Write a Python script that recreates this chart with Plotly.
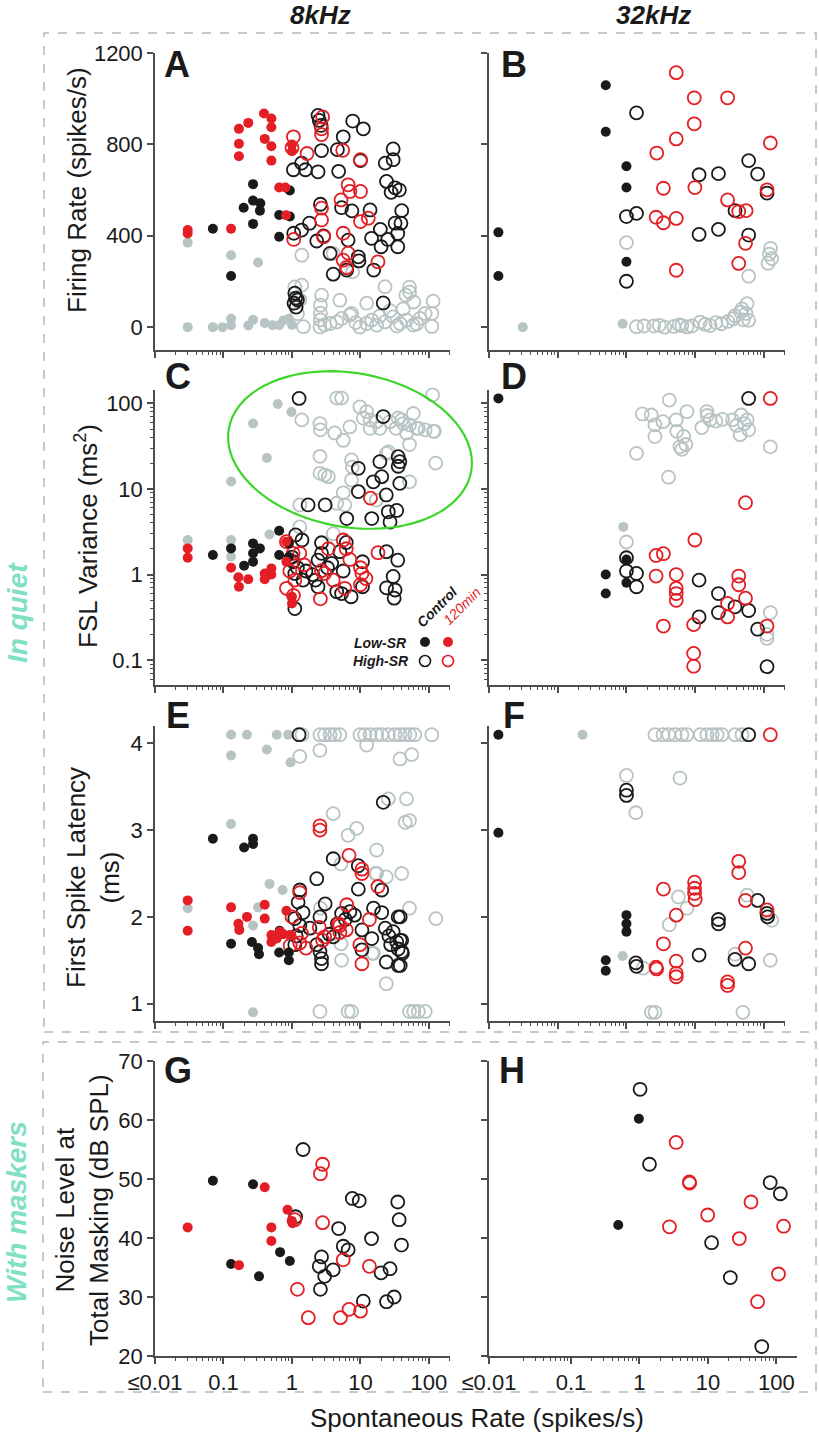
import math
import plotly.graph_objects as go

# x = spontaneous rate (spikes/s), y = response measure
# ctl = Control, t120 = 120min, excl = grey units; low = Low-SR (filled), high = High-SR (open)

# ---- A: firing rate, 8 kHz
a_excl_low_sr = [0.03, 0.129, 0.32, 0.03, 0.07, 0.097, 0.129, 0.129, 0.23, 0.27, 0.4, 0.52, 0.65, 0.75, 0.9, 1.0]
a_excl_low_fr = [370, 315, 283, 0, 0, 0, 8, 37, 7, 32, 18, 8, 8, 29, 37, 10]
a_excl_high_sr = [1.39, 1.39, 1.47, 2.71, 2.6, 2.6, 5.0, 12.3, 22.8, 52, 52, 46, 60, 115, 110,
                  2.56, 3.6, 4.5, 5.3, 7.0, 7.4, 9.8, 12.3, 14.6, 17.2, 22.8, 30, 37.8, 47, 59, 74, 110,
                  4.0, 7.7, 6.2, 1.1, 1.2, 2.6, 3.0, 8.5, 19, 27, 34, 42, 66, 88, 1.3]
a_excl_high_fr = [315, 184, 2, 140, 96, 61, 118, 105, 177, 175, 153, 140, 110, 114, 3,
                  1, 16, 23, 38, 53, 60, 1, 16, 31, 9, 23, 45, 16, 31, 9, 38, 60,
                  322, 242, 264, 176, 59, 32, 10, 20, 48, 72, 5, 80, 15, 60, 120]
a_ctl_low_sr = [0.07, 0.129, 0.197, 0.27, 0.27, 0.27, 0.345, 0.34, 0.65, 0.65, 0.93, 0.93]
a_ctl_low_fr = [431, 224, 523, 626, 554, 452, 542, 510, 491, 396, 598, 484]
a_ctl_high_sr = [2.4, 2.65, 2.5, 7.7, 11, 5.6, 2.7, 4.6, 10, 30, 23, 30, 1.05, 1.38, 1.57, 2.4, 4.8, 24, 28, 32,
                 37, 2.6, 5.3, 7.5, 13.8, 40, 6.6, 1.06, 1.38, 1.8, 2.3, 2.9, 3.6, 9.3, 9.5, 4.0, 6.3, 15.6, 19.5, 14.5,
                 20, 25, 35, 35, 39, 32, 1.1, 1.13, 1.07, 1.15, 1.2, 21.5]
a_ctl_high_fr = [927, 883, 905, 902, 868, 833, 773, 777, 729, 780, 718, 733, 689, 718, 689, 680, 682, 638, 590, 610,
                 600, 538, 523, 509, 513, 510, 381, 411, 425, 455, 377, 399, 323, 308, 290, 232, 250, 250, 428, 389,
                 352, 384, 352, 410, 455, 455, 149, 127, 105, 88, 120, 106]
a_t120_low_sr = [0.03, 0.03, 0.129, 0.168, 0.23, 0.168, 0.168, 0.39, 0.5, 0.5, 0.4, 0.5, 0.5, 0.65, 0.8, 0.82, 1.0, 1.0]
a_t120_low_fr = [425, 410, 431, 868, 894, 803, 748, 935, 913, 875, 824, 792, 729, 611, 611, 490, 799, 770]
a_t120_high_sr = [1.05, 1.0, 1.66, 2.7, 2.7, 2.8, 5.5, 10, 6.6, 7, 10, 5.2, 10, 13, 2.7, 2.7, 5.6, 2.9, 1.06, 5.6, 6.6, 6.3, 18]
a_t120_high_fr = [833, 785, 760, 868, 843, 920, 774, 733, 623, 594, 594, 557, 462, 477, 521, 469, 411, 396, 384, 293, 324, 260, 286]

# ---- B: firing rate, 32 kHz
b_excl_low_sr = [0.031, 0.88]
b_excl_low_fr = [0, 15]
b_excl_high_sr = [1.0, 60, 115, 120, 125, 130, 57, 48, 55, 38, 60, 1.4, 1.8, 2.5, 3.6, 4.9, 6.4, 7.6, 11.8, 16.5,
                  24, 36, 46, 50, 3.0, 5.8, 9, 14, 20, 30]
b_excl_high_fr = [370, 223, 280, 320, 345, 300, 103, 80, 60, 50, 30, 2, 5, 5, 0, 3, 7, 1, 22, 7,
                  15, 37, 66, 32, 8, 10, 5, 12, 20, 25]
b_ctl_low_sr = [0.0137, 0.0137, 0.5, 0.5, 1.0, 1.0, 1.0]
b_ctl_low_fr = [415, 224, 1059, 855, 704, 611, 286]
b_ctl_high_sr = [1.4, 1.0, 1.4, 1.0, 11.4, 21.8, 11.4, 21.8, 60, 81, 111, 38, 60]
b_ctl_high_fr = [938, 484, 498, 201, 667, 672, 406, 428, 729, 670, 587, 510, 403]
b_t120_high_sr = [5.3, 9.7, 29.6, 9.7, 5.3, 2.76, 3.45, 9.9, 124, 2.7, 3.45, 5.3, 29.6, 43, 55, 54, 43, 5.3, 111]
b_t120_high_fr = [1114, 1004, 1004, 890, 824, 762, 608, 611, 806, 481, 457, 476, 557, 506, 510, 367, 279, 249, 601]

# ---- C: FSL variance, 8 kHz
c_excl_low_sr = [0.03, 0.129, 0.129, 0.129, 0.27, 0.43, 0.62, 0.98, 0.47]
c_excl_low_var = [2.53, 2.53, 1.62, 12.2, 58, 23, 98, 79, 2.94]
c_excl_high_sr = [4.5, 5.3, 1.39, 2.56, 2.6, 4.2, 7.0, 5.6, 9.8, 12.3, 11, 13.8, 17.2, 13.8, 19.2, 26.8, 35.5, 42,
                  52, 59, 66, 88, 116, 47, 33, 113, 52, 2.56, 2.56, 3.4, 3.0, 7.4, 7.6, 25.5, 125, 7.4, 4.5, 52,
                  1.3, 1.3, 4.0, 17, 5.6, 5.9, 40, 70, 120, 24]
c_excl_high_var = [115, 115, 64, 58, 49, 45, 53, 37, 91, 80, 67, 64, 61, 51, 51, 61, 67, 58,
                   56, 76, 51, 49, 47, 45, 51, 125, 33, 24, 15.2, 13.9, 14.5, 21.8, 18, 27, 20, 12.7, 6.8, 12.1,
                   6.5, 3.6, 3.0, 7.4, 9, 6.5, 64, 51, 47, 26]
c_ctl_low_sr = [0.07, 0.129, 0.2, 0.27, 0.27, 0.34, 0.27, 0.65, 0.65, 0.9, 0.9]
c_ctl_low_var = [1.69, 2.02, 1.27, 2.31, 1.77, 2.02, 1.41, 3.25, 1.69, 2.31, 1.6]
c_ctl_high_sr = [1.27, 21.5, 9.3, 19.2, 35.5, 37.5, 35.5, 20.4, 15.4, 37.5, 9.3, 23.8, 1.72, 3.05, 6.3, 14.6, 25.5,
                 33.8, 27, 1.13, 1.4, 2.7, 6.2, 1.04, 1.1, 1.45, 2.4, 2.7, 3.8, 5, 5.6, 2.2, 2.4, 4.5, 5.3, 7.3,
                 10.7, 10.7, 24, 35, 30, 24, 32, 31, 1.1, 1.2, 1.6, 2.0, 3.3, 1.0]
c_ctl_high_var = [114, 70, 17.4, 20.8, 23.8, 20.8, 18.4, 13.9, 12.1, 11.6, 9.3, 8.5, 6.5, 6.5, 4.5, 4.5, 5.4,
                  5.6, 4.1, 2.9, 2.53, 2.35, 2.37, 1.41, 1.03, 0.86, 1.47, 1.77, 1.35, 1.85, 1.1, 0.86, 0.72, 0.63, 0.6, 0.55,
                  0.72, 1.41, 1.85, 1.47, 0.95, 0.7, 0.66, 0.53, 0.4, 1.2, 1.1, 1.0, 1.2, 1.6]
c_t120_low_sr = [0.03, 0.03, 0.129, 0.165, 0.168, 0.23, 0.4, 0.4, 0.5, 0.5, 0.82, 0.83, 1.0, 1.0]
c_t120_low_var = [2.02, 1.57, 1.2, 0.93, 0.72, 0.88, 0.88, 1.03, 1.18, 1.0, 2.42, 1.41, 0.55, 0.46]
c_t120_high_sr = [14, 0.83, 1.04, 1.3, 0.93, 1.1, 2.7, 3.0, 4.0, 5.6, 10, 10.5, 10, 18, 5.9, 2.6, 1.05, 0.83,
                  6.2, 12, 3.4, 1.5, 7]
c_t120_high_var = [7.8, 2.42, 1.77, 1.77, 1.1, 0.86, 1.11, 1.03, 0.86, 2.53, 1.2, 1.03, 0.76, 1.8, 0.69, 0.52, 0.57, 0.69,
                   2.0, 0.9, 2.0, 1.3, 1.5]

# ---- D: FSL variance, 32 kHz
d_excl_low_sr = [0.9]
d_excl_low_var = [3.6]
d_excl_high_sr = [4.2, 1.7, 2.3, 2.6, 3.4, 5.3, 7.6, 5.4, 2.6, 6.8, 7.3, 6.4, 6.0, 1.4, 4.1, 12.5, 14.8, 16.5, 20,
                  25, 35, 47, 57, 60, 45, 52, 124, 1.0, 124, 111, 111, 15, 40]
d_excl_high_var = [109, 75, 73, 56, 61, 64, 80, 47, 41, 41, 33, 29, 31, 26, 13.7, 52, 80, 64, 62,
                   65, 64, 73, 64, 49, 43, 58, 31, 2.4, 0.36, 0.2, 0.18, 72, 55]
d_ctl_low_sr = [0.0137, 0.5, 0.5, 1.0, 1.0]
d_ctl_low_var = [114, 1.0, 0.6, 1.5, 0.8]
d_ctl_high_sr = [60, 1.0, 1.0, 1.4, 1.4, 11.4, 21.8, 21.8, 38, 60, 11.4, 81, 111]
d_ctl_high_var = [114, 1.57, 1.1, 1.03, 0.72, 0.86, 0.6, 0.36, 0.42, 0.38, 0.32, 0.23, 0.084]
d_t120_high_sr = [124, 54, 9.9, 2.7, 3.45, 2.7, 5.3, 5.3, 5.3, 5.3, 43, 43, 54, 29.6, 29.6, 9.5, 3.45, 9.5, 9.5, 111]
d_t120_high_var = [114, 6.9, 2.53, 1.67, 1.75, 0.96, 1.0, 0.69, 0.6, 0.5, 0.96, 0.76, 0.53, 0.46, 0.32, 0.26, 0.25,
                   0.12, 0.085, 0.25]

# ---- E: first spike latency, 8 kHz
e_excl_low_sr = [0.129, 0.22, 0.6, 0.88, 0.129, 0.43, 0.95, 0.129, 0.03, 0.47, 0.73, 0.32, 0.27, 0.27]
e_excl_low_fsl = [4.1, 4.1, 4.1, 4.1, 3.86, 3.93, 3.78, 3.07, 2.1, 2.38, 2.31, 2.11, 1.9, 0.9]
e_excl_high_sr = [1.4, 2.56, 3.0, 3.6, 4.2, 5.0, 9.8, 11.5, 13.8, 17.2, 20.4, 25.5, 32, 37.8, 44.6, 52.5, 62, 110,
                  1.3, 2.56, 12.3, 37.8, 56, 25.5, 47, 45, 52, 4.0, 6.6, 8.8, 17.2, 40, 23.8, 17.2, 126, 52,
                  2.56, 6.6, 7.4, 52, 60, 70, 88, 23.8, 5.3, 15.5, 5.2, 2.6, 5.2, 16.5, 14.8]
e_excl_high_fsl = [4.1, 4.1, 4.1, 4.1, 4.1, 4.1, 4.1, 4.1, 4.1, 4.1, 4.1, 4.1, 4.1, 4.1, 4.1, 4.1, 4.1, 4.1,
                   3.85, 3.92, 3.98, 3.82, 3.87, 3.36, 3.36, 3.09, 3.11, 3.19, 2.94, 3.02, 2.77, 2.5, 2.46, 2.5, 1.98, 2.1,
                   0.91, 0.91, 0.91, 0.91, 0.91, 0.91, 0.91, 1.23, 1.5, 1.58, 1.69, 2.1, 2.61, 2.5, 1.58]
e_ctl_low_sr = [0.07, 0.2, 0.27, 0.27, 0.129, 0.26, 0.32, 0.33, 0.65, 0.66, 0.9, 0.9]
e_ctl_low_fsl = [2.9, 2.8, 2.9, 2.84, 1.69, 1.71, 1.64, 1.57, 1.59, 1.84, 1.59, 1.5]
e_ctl_high_sr = [1.27, 21.5, 4.0, 2.3, 9.3, 9.3, 1.3, 1.23, 3.05, 7.0, 15.5, 20.4, 35.5, 1.45, 1.1, 2.56, 5.3, 6.0,
                 8.2, 4.6, 1.83, 10.5, 14.6, 23, 26, 30, 33.8, 40, 27.6, 35.5, 40, 23.8, 35.5, 10.5, 2.3, 2.56, 2.7,
                 2.7, 1.1, 1.15, 20.4, 38, 38, 41, 38, 1.3, 3.5, 4.0]
e_ctl_high_fsl = [4.1, 3.32, 2.67, 2.44, 2.59, 2.32, 2.31, 2.17, 2.15, 2.06, 2.1, 2.05, 2.0, 2.05, 1.98, 2.0, 2.04, 1.97,
                  2.02, 1.92, 1.87, 1.85, 1.75, 1.87, 1.78, 1.83, 1.71, 1.73, 1.68, 1.63, 1.6, 1.48, 1.44, 1.62, 1.68, 1.6, 1.52,
                  1.46, 1.68, 1.78, 2.31, 2.0, 1.73, 1.58, 1.44, 1.9, 1.8, 1.77]
e_t120_low_sr = [0.03, 0.03, 0.129, 0.165, 0.17, 0.22, 0.4, 0.4, 0.5, 0.5, 0.67, 0.83, 0.94, 0.6, 0.75]
e_t120_low_fsl = [2.19, 1.84, 2.11, 1.92, 1.85, 2.0, 2.14, 1.98, 1.79, 1.71, 1.83, 2.07, 1.79, 1.75, 1.8]
e_t120_high_sr = [2.56, 2.56, 6.8, 10.5, 10.5, 18, 1.3, 6.3, 13.5, 2.5, 5.0, 5.0, 9.8, 10.5, 1.6, 1.3, 2.8, 1.0,
                  1.38, 0.94, 6.2, 4.8, 3.0]
e_t120_high_fsl = [3.05, 3.0, 2.71, 2.5, 2.55, 2.35, 2.28, 2.14, 1.97, 1.88, 1.9, 1.82, 1.68, 1.46, 1.64, 1.7, 1.73, 2.0,
                   1.81, 1.67, 1.85, 1.92, 1.77]

# ---- F: first spike latency, 32 kHz
f_excl_low_sr = [0.23, 0.88]
f_excl_low_fsl = [4.1, 1.55]
f_excl_high_sr = [2.6, 3.4, 4.1, 5.1, 6.4, 7.6, 11.9, 14.8, 17.7, 20.8, 24.6, 38, 48,
                  1.0, 6.0, 1.37, 5.7, 7.6, 4.2, 57, 110, 130, 38, 124, 1.75, 2.3, 2.6, 49.5]
f_excl_high_fsl = [4.1, 4.1, 4.1, 4.1, 4.1, 4.1, 4.1, 4.1, 4.1, 4.1, 4.1, 4.1, 4.1,
                   3.63, 3.6, 3.2, 2.23, 2.1, 1.91, 2.25, 2.04, 1.96, 1.57, 1.5, 1.41, 0.9, 0.9, 0.9]
f_ctl_low_sr = [0.0137, 0.0137, 1.0, 1.0, 1.0, 0.5, 0.5]
f_ctl_low_fsl = [4.1, 2.97, 2.02, 1.92, 1.83, 1.5, 1.38]
f_ctl_high_sr = [60, 1.0, 1.0, 1.37, 1.4, 11.4, 21.8, 21.8, 38, 60, 81, 111, 113]
f_ctl_high_fsl = [4.1, 3.46, 3.4, 1.47, 1.43, 1.56, 1.97, 1.92, 1.51, 1.46, 2.19, 2.04, 2.0]
f_t120_high_sr = [124, 43, 43, 54, 111, 9.8, 9.8, 9.8, 10, 3.45, 5.3, 3.45, 5.3, 5.3, 5.3, 2.7, 2.75, 29.6, 29.6, 54]
f_t120_high_fsl = [4.1, 2.64, 2.51, 2.19, 2.08, 2.4, 2.33, 2.27, 2.2, 2.32, 2.02, 1.69, 1.49, 1.35, 1.31, 1.42, 1.4,
                   1.25, 1.21, 1.64]

# ---- G: noise level at total masking, 8 kHz
g_ctl_low_sr = [0.07, 0.27, 0.129, 0.33, 0.67, 0.93]
g_ctl_low_nl = [49.7, 49.1, 35.6, 33.5, 37.6, 36.1]
g_t120_low_sr = [0.03, 0.168, 0.4, 0.5, 0.5, 0.86, 0.99, 1.02]
g_t120_low_nl = [41.8, 35.4, 48.6, 41.8, 39.5, 44.8, 42.9, 42.5]
g_ctl_high_sr = [1.45, 1.13, 2.7, 2.5, 3.0, 4.0, 2.6, 4.8, 5.6, 6.6, 7.6, 9.6, 14.5, 20, 27, 24, 31, 11, 35, 36.7, 39.7]
g_ctl_high_nl = [55.0, 43.6, 36.8, 35.2, 33.5, 34.6, 31.3, 41.6, 38.6, 38.0, 46.7, 46.3, 39.9, 34.1, 34.8, 29.2, 30.0,
                 29.3, 46.1, 43.1, 38.8]
g_t120_high_sr = [2.8, 2.6, 2.8, 1.1, 5.6, 13.5, 1.2, 1.73, 5.1, 6.8, 10]
g_t120_high_nl = [52.5, 50.9, 42.6, 43.1, 36.3, 35.2, 31.3, 26.5, 26.5, 27.9, 27.6]

# ---- H: noise level at total masking, 32 kHz
h_ctl_low_sr = [0.98, 0.49]
h_ctl_low_nl = [60.2, 42.2]
h_ctl_high_sr = [1.02, 1.4, 81, 114, 11.3, 21.2, 61]
h_ctl_high_nl = [65.2, 52.5, 49.4, 47.5, 39.2, 33.3, 21.6]
h_t120_high_sr = [3.43, 5.35, 5.4, 2.74, 9.9, 28.7, 42.5, 127, 107, 53]
h_t120_high_nl = [56.2, 49.5, 49.3, 41.9, 43.9, 39.9, 46.1, 42.0, 33.9, 29.2]

x_tick_vals = [0.01, 0.1, 1, 10, 100]
x_tick_text = ['≤0.01', '0.1', '1', '10', '100']

W, H = 819, 1437
BLACK, RED, GREY = '#1a1a1a', '#e31e24', '#b8c4c4'
AXIS = '#4d4d4d'
FONT = 'Liberation Sans, Arial, sans-serif'


def fx(p):
    return p / W


def fy(p):
    return 1 - p / H


groups = {
    'excl_high': (GREY, True), 'excl_low': (GREY, False),
    'ctl_high': (BLACK, True), 't120_high': (RED, True),
    'ctl_low': (BLACK, False), 't120_low': (RED, False),
}

panels = [
    ('x', 'y', {'excl_high': (a_excl_high_sr, a_excl_high_fr), 'excl_low': (a_excl_low_sr, a_excl_low_fr),
                'ctl_high': (a_ctl_high_sr, a_ctl_high_fr), 't120_high': (a_t120_high_sr, a_t120_high_fr),
                'ctl_low': (a_ctl_low_sr, a_ctl_low_fr), 't120_low': (a_t120_low_sr, a_t120_low_fr)}),
    ('x2', 'y2', {'excl_high': (b_excl_high_sr, b_excl_high_fr), 'excl_low': (b_excl_low_sr, b_excl_low_fr),
                  'ctl_high': (b_ctl_high_sr, b_ctl_high_fr), 't120_high': (b_t120_high_sr, b_t120_high_fr),
                  'ctl_low': (b_ctl_low_sr, b_ctl_low_fr)}),
    ('x3', 'y3', {'excl_high': (c_excl_high_sr, c_excl_high_var), 'excl_low': (c_excl_low_sr, c_excl_low_var),
                  'ctl_high': (c_ctl_high_sr, c_ctl_high_var), 't120_high': (c_t120_high_sr, c_t120_high_var),
                  'ctl_low': (c_ctl_low_sr, c_ctl_low_var), 't120_low': (c_t120_low_sr, c_t120_low_var)}),
    ('x4', 'y4', {'excl_high': (d_excl_high_sr, d_excl_high_var), 'excl_low': (d_excl_low_sr, d_excl_low_var),
                  'ctl_high': (d_ctl_high_sr, d_ctl_high_var), 't120_high': (d_t120_high_sr, d_t120_high_var),
                  'ctl_low': (d_ctl_low_sr, d_ctl_low_var)}),
    ('x5', 'y5', {'excl_high': (e_excl_high_sr, e_excl_high_fsl), 'excl_low': (e_excl_low_sr, e_excl_low_fsl),
                  'ctl_high': (e_ctl_high_sr, e_ctl_high_fsl), 't120_high': (e_t120_high_sr, e_t120_high_fsl),
                  'ctl_low': (e_ctl_low_sr, e_ctl_low_fsl), 't120_low': (e_t120_low_sr, e_t120_low_fsl)}),
    ('x6', 'y6', {'excl_high': (f_excl_high_sr, f_excl_high_fsl), 'excl_low': (f_excl_low_sr, f_excl_low_fsl),
                  'ctl_high': (f_ctl_high_sr, f_ctl_high_fsl), 't120_high': (f_t120_high_sr, f_t120_high_fsl),
                  'ctl_low': (f_ctl_low_sr, f_ctl_low_fsl)}),
    ('x7', 'y7', {'ctl_high': (g_ctl_high_sr, g_ctl_high_nl), 't120_high': (g_t120_high_sr, g_t120_high_nl),
                  'ctl_low': (g_ctl_low_sr, g_ctl_low_nl), 't120_low': (g_t120_low_sr, g_t120_low_nl)}),
    ('x8', 'y8', {'ctl_high': (h_ctl_high_sr, h_ctl_high_nl), 't120_high': (h_t120_high_sr, h_t120_high_nl),
                  'ctl_low': (h_ctl_low_sr, h_ctl_low_nl)}),
]

fig = go.Figure()

for xa, ya, data in panels:
    for g in groups:
        if g not in data:
            continue
        color, is_open = groups[g]
        xs, ys = data[g]
        if is_open:
            marker = dict(symbol='circle-open', size=13, color=color, line=dict(width=1.8, color=color))
        else:
            marker = dict(symbol='circle', size=10, color=color, line=dict(width=0))
        fig.add_trace(go.Scatter(x=xs, y=ys, xaxis=xa, yaxis=ya, mode='markers', marker=marker,
                                 showlegend=False, hoverinfo='skip', cliponaxis=False))

# ---- axes (pixel positions measured on the reference)
rows = [(53, 350), (390, 685), (726, 1021), (1061, 1356)]
left_dom = [fx(155), fx(450)]
right_dom = [fx(489), fx(785)]


def minor_log(lo, hi):
    return [m * 10 ** e for e in range(-3, 4) for m in range(2, 10) if lo <= m * 10 ** e <= hi]


base = dict(showline=True, linecolor=AXIS, linewidth=1.5, ticks='outside', ticklen=6, tickwidth=1.5,
            tickcolor=AXIS, showgrid=False, zeroline=False, mirror=False, automargin=False,
            tickfont=dict(family=FONT, size=22, color='#1a1a1a'))

layout_axes = {}
for i in range(8):
    n = '' if i == 0 else str(i + 1)
    row, col = divmod(i, 2)
    top, bot = rows[row]
    bottom_row = row == 3
    if i == 7:
        xdom = [fx(489), fx(797)]
        xr = [-2.197, 2.3]
        tv = [10 ** -2.197, 0.1, 1, 10, 100]
    else:
        xdom = left_dom if col == 0 else right_dom
        xr = [-2, 2.307]
        tv = x_tick_vals
    layout_axes['xaxis' + n] = dict(base, type='log', domain=xdom, range=xr, anchor='y' + n,
                                    tickvals=tv, ticktext=x_tick_text, showticklabels=bottom_row,
                                    minor=dict(tickvals=minor_log(0.02, 200), ticks='outside', ticklen=3,
                                               tickwidth=1, tickcolor=AXIS))
    ydict = dict(base, domain=[fy(bot), fy(top)], anchor='x' + n, showticklabels=(col == 0))
    if row == 0:
        ydict.update(range=[-100, 1200], tickvals=[0, 400, 800, 1200])
    elif row == 1:
        ydict.update(type='log', range=[-1.29, 2.155], tickvals=[0.1, 1, 10, 100],
                     ticktext=['0.1', '1', '10', '100'],
                     minor=dict(tickvals=minor_log(0.05, 140), ticks='outside', ticklen=3,
                                tickwidth=1, tickcolor=AXIS))
    elif row == 2:
        ydict.update(range=[0.8, 4.2], tickvals=[1, 2, 3, 4])
    else:
        ydict.update(range=[20, 70], tickvals=[20, 30, 40, 50, 60, 70])
    layout_axes['yaxis' + n] = ydict

fig.update_layout(**layout_axes)

# ---- text
ann = []


def text(x, y, s, size, color='#1a1a1a', angle=0, xanchor='center', yanchor='middle'):
    ann.append(dict(x=fx(x), y=fy(y), xref='paper', yref='paper', text=s, showarrow=False,
                    font=dict(family=FONT, size=size, color=color), textangle=angle,
                    xanchor=xanchor, yanchor=yanchor))


text(320, 15, '<b><i>8kHz</i></b>', 26)
text(653, 15, '<b><i>32kHz</i></b>', 26)
for letter, x, y in [('A', 162, 64), ('B', 499, 64), ('C', 163, 376), ('D', 499, 376),
                     ('E', 164, 715), ('F', 501, 715), ('G', 162, 1070), ('H', 497, 1070)]:
    text(x, y, '<b>' + letter + '</b>', 36, xanchor='left')

text(77, 190, 'Firing Rate (spikes/s)', 26, angle=-90)
text(86, 536, 'FSL Variance (ms<sup>2</sup>)', 26, angle=-90)
text(93, 878, 'First Spike Latency<br>(ms)', 26, angle=-90)
text(82, 1210, 'Noise Level at<br>Total Masking (dB SPL)', 26, angle=-90)
text(477, 1418, 'Spontaneous Rate (spikes/s)', 26)
text(17, 613, '<b><i>In quiet</i></b>', 28, color='#7fe0c4', angle=-90)
text(16, 1212, '<b><i>With maskers</i></b>', 28, color='#7fe0c4', angle=-90)

# legend in panel C
text(380, 643, '<b><i>Low-SR</i></b>', 14)
text(381, 661, '<b><i>High-SR</i></b>', 14)
text(437, 607, '<b><i>Control</i></b>', 14, angle=-45)
text(462, 606, '<i>120min</i>', 14, color=RED, angle=-45)

fig.update_layout(annotations=ann)

# ---- shapes: dashed boxes, ellipse, legend symbols
shapes = []
for x0, y0, x1, y1 in [(44, 33, 816, 1032), (43, 1042, 816, 1392)]:
    shapes.append(dict(type='rect', xref='paper', yref='paper', x0=fx(x0), x1=fx(x1), y0=fy(y1), y1=fy(y0),
                       line=dict(color='#a9bcbc', width=1.5, dash='dash'), layer='below'))

cx, cy, ra, rb, th = 350, 450, 123, 77, math.radians(10)
pts = []
for k in range(121):
    t = 2 * math.pi * k / 120
    px = cx + ra * math.cos(t) * math.cos(th) - rb * math.sin(t) * math.sin(th)
    py = cy + ra * math.cos(t) * math.sin(th) + rb * math.sin(t) * math.cos(th)
    pts.append('%.5f,%.5f' % (fx(px), fy(py)))
shapes.append(dict(type='path', xref='paper', yref='paper', path='M' + 'L'.join(pts) + 'Z',
                   line=dict(color='#3cd62b', width=2.2)))

for (x, y, color, is_open) in [(425, 642, BLACK, False), (448, 642, RED, False),
                               (425, 661, BLACK, True), (448, 661, RED, True)]:
    r = 5.5 if is_open else 5
    shapes.append(dict(type='circle', xref='paper', yref='paper', x0=fx(x - r), x1=fx(x + r),
                       y0=fy(y + r), y1=fy(y - r), fillcolor='rgba(0,0,0,0)' if is_open else color,
                       line=dict(color=color, width=1.6 if is_open else 0)))
fig.update_layout(shapes=shapes)

fig.update_layout(width=W, height=H, autosize=False,
                  margin=dict(l=0, r=0, t=0, b=0, pad=0, autoexpand=False),
                  plot_bgcolor='white', paper_bgcolor='white', showlegend=False,
                  font=dict(family=FONT, color='#1a1a1a'))

# drop the browser's default 8px body margin so the figure sits at the page origin
fig.write_html('out.html', config={'displayModeBar': False},
               post_script="document.body.style.margin='0';document.body.style.overflow='hidden';")
